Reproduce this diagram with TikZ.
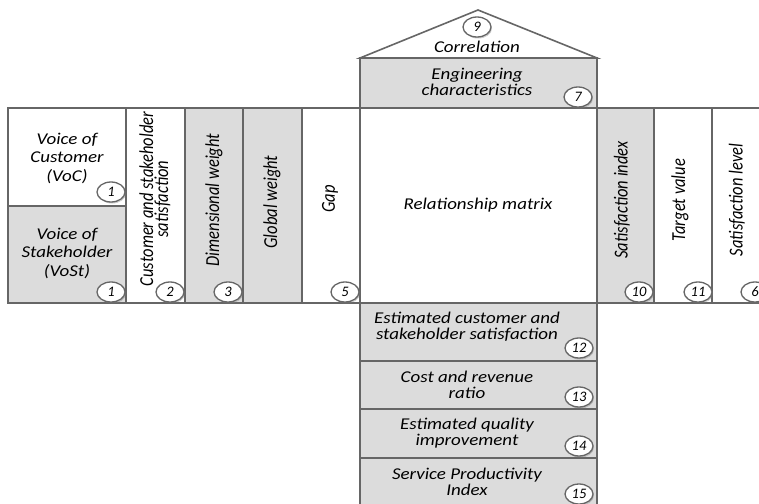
\documentclass[tikz,border=0pt]{standalone}
\usepackage{fontspec}
\setmainfont{Carlito}
\usetikzlibrary{shapes.geometric,shadows}

\definecolor{cellgray}{HTML}{DCDCDC}
\definecolor{linegray}{HTML}{666666}

\tikzset{
    cell/.style={draw=linegray, line width=1.6pt},
    htext/.style={xscale=1.15, align=center, font=\itshape\fontsize{16.5}{16}\selectfont},
    vtext/.style={rotate=90, yscale=1.2, align=center, font=\itshape\fontsize{16.5}{12.5}\selectfont},
    numtag/.style={ellipse, draw=linegray, line width=1.3pt, fill=white, minimum width=28pt,
        minimum height=20pt, inner sep=0pt, font=\itshape\fontsize{14.5}{14.5}\selectfont,
        drop shadow={shadow xshift=1pt, shadow yshift=-1.5pt, opacity=0.4}}
}

\begin{document}
\begin{tikzpicture}[x=1pt, y=-1pt]
    \path[use as bounding box] (0,0) rectangle (759,503);
    \clip (0,0) rectangle (759,503);

    % Roof and engineering characteristics
    \draw[cell, fill=white] (360,58) -- (478,10) -- (597,58) -- cycle;
    \draw[cell, fill=cellgray] (360,58) rectangle (597,108);

    % Main row
    \draw[cell, fill=white] (8,108) rectangle (126,206);
    \draw[cell, fill=cellgray] (8,206) rectangle (126,303);
    \draw[cell, fill=white] (126,108) rectangle (185,303);
    \draw[cell, fill=cellgray] (185,108) rectangle (243,303);
    \draw[cell, fill=cellgray] (243,108) rectangle (302,303);
    \draw[cell, fill=white] (302,108) rectangle (360,303);
    \draw[cell, fill=white] (360,108) rectangle (597,303);
    \draw[cell, fill=cellgray] (597,108) rectangle (654,303);
    \draw[cell, fill=white] (654,108) rectangle (712,303);
    \draw[cell, fill=white] (712,108) rectangle (780,303);

    % Rows under the matrix
    \draw[cell, fill=cellgray] (360,303) rectangle (597,361);
    \draw[cell, fill=cellgray] (360,361) rectangle (597,409);
    \draw[cell, fill=cellgray] (360,409) rectangle (597,458);
    \draw[cell, fill=cellgray] (360,458) rectangle (597,515);

    % Labels
    \node[htext] (correl) at (477,47) {Correlation};
    \node[htext] (engchar) at (477,82) {Engineering\\characteristics};
    \node[htext, font=\itshape\fontsize{16.5}{18.5}\selectfont] (voc) at (67,158) {Voice of\\Customer\\(VoC)};
    \node[htext, font=\itshape\fontsize{16.5}{18.5}\selectfont] (vost) at (67,253) {Voice of\\Stakeholder\\(VoSt)};
    \node[vtext] (satcust) at (155,199) {Customer and stakeholder\\satisfaction};
    \node[vtext] (dimw) at (214,200) {Dimensional weight};
    \node[vtext] (globw) at (272,202) {Global weight};
    \node[vtext] (gap) at (330,199) {Gap};
    \node[htext] (relmat) at (478,205) {Relationship matrix};
    \node[vtext] (satidx) at (622,200) {Satisfaction index};
    \node[vtext] (target) at (680,200) {Target value};
    \node[vtext] (satlev) at (737,200) {Satisfaction level};
    \node[htext] (estsat) at (467,327) {Estimated customer and\\stakeholder satisfaction};
    \node[htext] (cost) at (467,385) {Cost and revenue\\ratio};
    \node[htext] (estq) at (467,433) {Estimated quality\\improvement};
    \node[htext] (spi) at (467,482) {Service Productivity\\Index};

    % Number tags
    \node[numtag] (n9) at (477,27) {9};
    \node[numtag] (n7) at (578,97) {7};
    \node[numtag] (n1a) at (111,192) {1};
    \node[numtag] (n1b) at (111,292) {1};
    \node[numtag] (n2) at (170,292) {2};
    \node[numtag] (n3) at (228,292) {3};
    \node[numtag] (n5) at (345,292) {5};
    \node[numtag] (n10) at (639,292) {10};
    \node[numtag] (n11) at (698,292) {11};
    \node[numtag] (n6) at (755,292) {6};
    \node[numtag] (n12) at (579,348) {12};
    \node[numtag] (n13) at (579,397) {13};
    \node[numtag] (n14) at (579,446) {14};
    \node[numtag] (n15) at (579,494) {15};
\end{tikzpicture}
\end{document}
